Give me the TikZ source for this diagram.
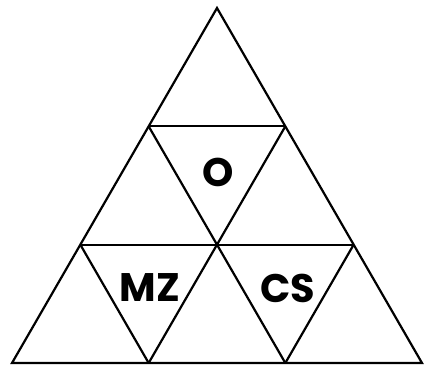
\documentclass[tikz,border=0pt]{standalone}
\usepackage{fontspec}
\setsansfont{Poppins}
\usepackage{tikz}
\usetikzlibrary{calc}

\begin{document}
\begin{tikzpicture}[x=1bp,y=-1bp,line join=miter,
  edge/.style={draw,line width=2.2bp},
  lbl/.style={inner sep=0pt,font=\sffamily\bfseries\fontsize{40}{40}\selectfont}]
\useasboundingbox (0,0) rectangle (424,365);
% corners of the big triangle and the grid points
\coordinate (T) at (217,8);
\coordinate (BL) at (12,363);
\coordinate (BR) at (422,363);
\coordinate (L1) at ($(T)!1/3!(BL)$);
\coordinate (R1) at ($(T)!1/3!(BR)$);
\coordinate (L2) at ($(T)!2/3!(BL)$);
\coordinate (R2) at ($(T)!2/3!(BR)$);
\coordinate (M2) at ($(L2)!0.5!(R2)$);
\coordinate (B1) at ($(BL)!1/3!(BR)$);
\coordinate (B2) at ($(BL)!2/3!(BR)$);
\path[edge] (T) -- (BR) -- (BL) -- cycle;
\path[edge] (L1) -- (R1);
\path[edge] (L2) -- (R2);
\path[edge] (L1) -- (B2);
\path[edge] (R1) -- (B1);
\path[edge] (L2) -- (B1);
\path[edge] (R2) -- (B2);
% labels in the inverted triangles
\node[lbl] (O)  at (218,172) {O};
\node[lbl] (MZ) at (150,288) {MZ};
\node[lbl] (CS) at (288,288) {CS};
\end{tikzpicture}
\end{document}
